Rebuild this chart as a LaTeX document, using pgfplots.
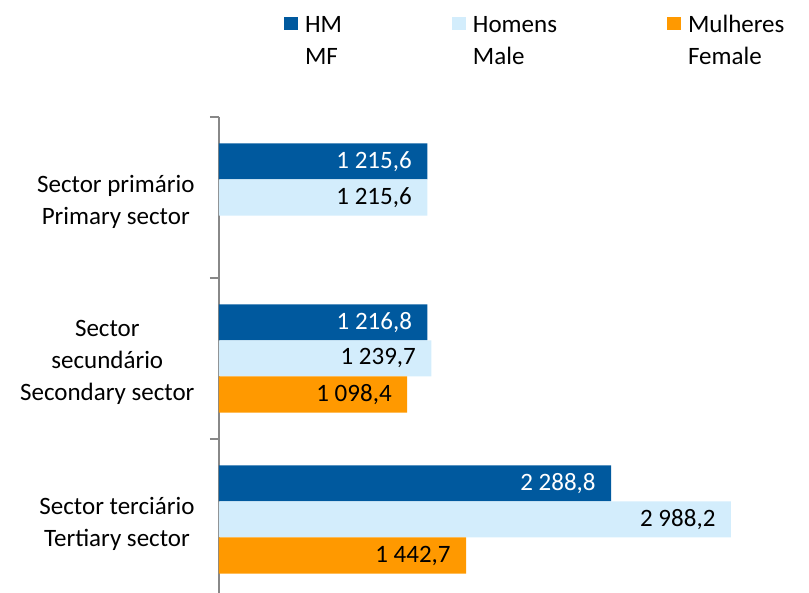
\documentclass[border=0pt]{standalone}
\usepackage{fontspec}
\setmainfont{Carlito}
\usepackage{pgfplots}
\pgfplotsset{compat=1.18}
\definecolor{hm}{HTML}{00599E}
\definecolor{homens}{HTML}{D3EDFC}
\definecolor{mulheres}{HTML}{FF9900}
\definecolor{axgray}{HTML}{888888}
\newcommand\F{\fontsize{25}{32}\selectfont}
\begin{document}
\begin{tikzpicture}
\useasboundingbox (0pt,0pt) rectangle (809pt,593pt);
\begin{axis}[
  at={(219pt,0pt)}, anchor=south west,
  scale only axis, width=582.5pt, height=476pt,
  xbar, bar width=0.224,
  xmin=0, xmax=3400,
  ymin=-0.5, ymax=2.457, y dir=reverse,
  axis lines*=left,
  x axis line style={draw=none},
  xtick=\empty,
  y axis line style={axgray, line width=1.2pt},
  ytick={0,1,2},
  yticklabels={{Sector primário\\Primary sector},{Sector\\secundário\\Secondary sector},{Sector terciário\\Tertiary sector}},
  major tick length=0pt,
  yticklabel style={font=\F, align=center, xshift=-21pt, yshift=-4pt},
  extra y ticks={-0.5,0.5,1.5},
  extra y tick labels={},
  extra y tick style={major tick length=9pt, tick align=outside,
     ytick style={draw=axgray, line width=1.2pt}},
  point meta=explicit symbolic,
  nodes near coords,
  nodes near coords style={anchor=east, font=\F, xshift=-12pt},
  legend columns=3,
  legend style={at={(0.1116,1.228)}, anchor=north west, draw=none, fill=none, font=\F,
    inner sep=0pt, outer sep=0pt,
    /tikz/every odd column/.append style={column sep=5pt},
    /tikz/every even column/.append style={column sep=108pt}},
  legend cell align=left,
  legend image code/.code={\fill[#1,draw=none] (0pt,0pt) rectangle (14pt,13pt);},
]
\addplot[fill=hm, draw=none, bar shift=-0.224, every node near coord/.append style={text=white}]
  coordinates {(1215.6,0)[1 215,6] (1216.8,1)[1 216,8] (2288.8,2)[2 288,8]};
\addlegendentry{\begin{tabular}{@{}l@{}}HM\\MF\end{tabular}}
\addplot[fill=homens, draw=none, bar shift=0]
  coordinates {(1215.6,0)[1 215,6] (1239.7,1)[1 239,7] (2988.2,2)[2 988,2]};
\addlegendentry{\begin{tabular}{@{}l@{}}Homens\\Male\end{tabular}}
\addplot[fill=mulheres, draw=none, bar shift=0.224]
  coordinates {(1098.4,1)[1 098,4] (1442.7,2)[1 442,7]};
\addlegendentry{\begin{tabular}{@{}l@{}}Mulheres\\Female\end{tabular}}
\end{axis}
\end{tikzpicture}
\end{document}
